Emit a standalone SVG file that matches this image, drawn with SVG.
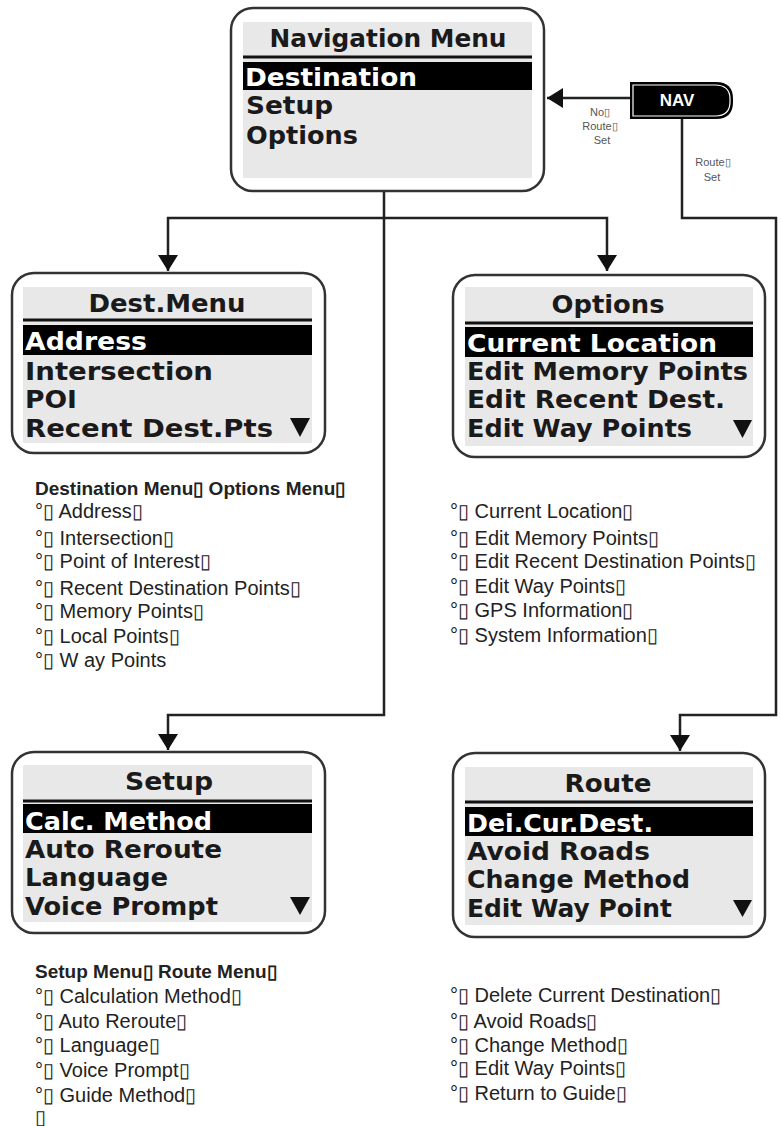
<svg xmlns="http://www.w3.org/2000/svg" width="781" height="1126" viewBox="0 0 781 1126">
<defs>
<marker id="ah" viewBox="0 0 16 20" refX="16" refY="10" markerWidth="16" markerHeight="20" markerUnits="userSpaceOnUse" orient="auto"><path d="M0,0 L16,10 L0,20 Z" fill="#111"/></marker>
<style>
.box{fill:#fff;stroke:#333;stroke-width:2.5}
.panel{fill:#e8e8e8}
.sep{stroke:#111;stroke-width:3}
.bar{fill:#000}
.lcd{font-family:"DejaVu Sans",sans-serif;font-weight:bold;fill:#1a1a1a}
.w{fill:#fff}
.t{font-size:24px}
.i{font-size:25px}
.tri{fill:#111}
.list{font-family:"Liberation Sans",Arial,sans-serif;font-size:20px;fill:#222}
.hd{font-weight:bold;font-size:19px}
.bx{font-family:"DejaVu Sans",sans-serif;font-size:15px;font-weight:normal}
.conn{stroke:#222;stroke-width:2.5;fill:none}
.lbl{font-family:"Liberation Sans",Arial,sans-serif;font-size:11px;fill:#555;text-anchor:middle}
</style>
</defs>
<rect width="781" height="1126" fill="#fff"/>

<g id="connectors">
<path class="conn" d="M384,192 V715 H168 V750" marker-end="url(#ah)"/>
<path class="conn" d="M384,218 H168 V271" marker-end="url(#ah)"/>
<path class="conn" d="M384,218 H607 V271" marker-end="url(#ah)"/>
<path class="conn" d="M630,98 H547" marker-end="url(#ah)"/>
<path class="conn" d="M682,119 V218 H776 V715 H680 V751" marker-end="url(#ah)"/>
<text class="lbl" x="600" y="116">No▯</text>
<text class="lbl" x="600" y="130">Route▯</text>
<text class="lbl" x="602" y="144">Set</text>
<text class="lbl" x="713" y="166">Route▯</text>
<text class="lbl" x="712" y="181">Set</text>
</g>

<g id="nav-button">
<path d="M630,82 H716 Q733,82 733,99 V102 Q733,119 716,119 H630 Z" fill="#000"/>
<path d="M633,85 H715 Q730,85 730,99 V102 Q730,116 715,116 H633 Z" fill="none" stroke="#fff" stroke-width="1.2"/>
<text x="677" y="106" font-family="Liberation Sans,Arial,sans-serif" font-weight="bold" font-size="17" fill="#fff" text-anchor="middle">NAV</text>
</g>

<g id="navigation-menu">
<rect class="box" x="231" y="8" width="313" height="183" rx="22"/>
<rect class="panel" x="243" y="22" width="289" height="156"/>
<text class="lcd t" x="388" y="47" text-anchor="middle" textLength="237" lengthAdjust="spacingAndGlyphs">Navigation Menu</text>
<line class="sep" x1="243" y1="57" x2="532" y2="57"/>
<rect class="bar" x="243" y="62" width="289" height="28"/>
<text class="lcd i w" x="245" y="86" textLength="172" lengthAdjust="spacingAndGlyphs">Destination</text>
<text class="lcd i" x="246" y="114" textLength="87" lengthAdjust="spacingAndGlyphs">Setup</text>
<text class="lcd i" x="246" y="144" textLength="112" lengthAdjust="spacingAndGlyphs">Options</text>
</g>

<g id="dest-menu">
<rect class="box" x="12" y="273" width="313" height="180" rx="22"/>
<rect class="panel" x="23" y="287" width="289" height="156"/>
<text class="lcd t" x="167" y="312" text-anchor="middle" textLength="157" lengthAdjust="spacingAndGlyphs">Dest.Menu</text>
<line class="sep" x1="23" y1="320" x2="312" y2="320"/>
<rect class="bar" x="23" y="325" width="289" height="30"/>
<text class="lcd i w" x="25" y="350" textLength="122" lengthAdjust="spacingAndGlyphs">Address</text>
<text class="lcd i" x="25" y="380" textLength="188" lengthAdjust="spacingAndGlyphs">Intersection</text>
<text class="lcd i" x="25" y="408" textLength="52" lengthAdjust="spacingAndGlyphs">POI</text>
<text class="lcd i" x="25" y="437" textLength="248" lengthAdjust="spacingAndGlyphs">Recent Dest.Pts</text>
<path class="tri" d="M290,418 H310 L300,437 Z"/>
</g>

<g id="options-menu">
<rect class="box" x="453" y="275" width="312" height="182" rx="22"/>
<rect class="panel" x="465" y="287" width="288" height="159"/>
<text class="lcd t" x="608" y="313" text-anchor="middle" textLength="113" lengthAdjust="spacingAndGlyphs">Options</text>
<line class="sep" x1="465" y1="323" x2="753" y2="323"/>
<rect class="bar" x="465" y="327" width="288" height="30"/>
<text class="lcd i w" x="467" y="352" textLength="250" lengthAdjust="spacingAndGlyphs">Current Location</text>
<text class="lcd i" x="467" y="380" textLength="281" lengthAdjust="spacingAndGlyphs">Edit Memory Points</text>
<text class="lcd i" x="467" y="408" textLength="258" lengthAdjust="spacingAndGlyphs">Edit Recent Dest.</text>
<text class="lcd i" x="467" y="437" textLength="225" lengthAdjust="spacingAndGlyphs">Edit Way Points</text>
<path class="tri" d="M733,420 H752 L742.5,438 Z"/>
</g>

<g id="setup-menu">
<rect class="box" x="12" y="752" width="313" height="181" rx="22"/>
<rect class="panel" x="23" y="765" width="289" height="157"/>
<text class="lcd t" x="169" y="790" text-anchor="middle" textLength="88" lengthAdjust="spacingAndGlyphs">Setup</text>
<line class="sep" x1="23" y1="801" x2="312" y2="801"/>
<rect class="bar" x="23" y="804" width="289" height="29"/>
<text class="lcd i w" x="25" y="830" textLength="187" lengthAdjust="spacingAndGlyphs">Calc. Method</text>
<text class="lcd i" x="25" y="858" textLength="197" lengthAdjust="spacingAndGlyphs">Auto Reroute</text>
<text class="lcd i" x="25" y="886" textLength="143" lengthAdjust="spacingAndGlyphs">Language</text>
<text class="lcd i" x="25" y="915" textLength="193" lengthAdjust="spacingAndGlyphs">Voice Prompt</text>
<path class="tri" d="M290,897 H310 L300,915 Z"/>
</g>

<g id="route-menu">
<rect class="box" x="453" y="753" width="312" height="184" rx="22"/>
<rect class="panel" x="465" y="767" width="288" height="158"/>
<text class="lcd t" x="608" y="792" text-anchor="middle" textLength="87" lengthAdjust="spacingAndGlyphs">Route</text>
<line class="sep" x1="465" y1="802" x2="753" y2="802"/>
<rect class="bar" x="465" y="807" width="288" height="29"/>
<text class="lcd i w" x="467" y="832" textLength="186" lengthAdjust="spacingAndGlyphs">Dei.Cur.Dest.</text>
<text class="lcd i" x="467" y="860" textLength="183" lengthAdjust="spacingAndGlyphs">Avoid Roads</text>
<text class="lcd i" x="467" y="888" textLength="223" lengthAdjust="spacingAndGlyphs">Change Method</text>
<text class="lcd i" x="467" y="917" textLength="205" lengthAdjust="spacingAndGlyphs">Edit Way Point</text>
<path class="tri" d="M733,900 H752 L742.5,917 Z"/>
</g>

<g id="dest-options-list" class="list">
<text class="hd" x="35" y="495">Destination Menu▯ Options Menu▯</text>
<text x="35" y="518">°▯ Address▯</text>
<text x="35" y="545">°▯ Intersection▯</text>
<text x="35" y="568">°▯ Point of Interest▯</text>
<text x="35" y="595">°▯ Recent Destination Points▯</text>
<text x="35" y="618">°▯ Memory Points▯</text>
<text x="35" y="643">°▯ Local Points▯</text>
<text x="35" y="667">°▯ W ay Points</text>
<text x="450" y="518">°▯ Current Location▯</text>
<text x="450" y="545">°▯ Edit Memory Points▯</text>
<text x="450" y="568">°▯ Edit Recent Destination Points▯</text>
<text x="450" y="593">°▯ Edit Way Points▯</text>
<text x="450" y="617">°▯ GPS Information▯</text>
<text x="450" y="642">°▯ System Information▯</text>
</g>

<g id="setup-route-list" class="list">
<text class="hd" x="35" y="978">Setup Menu▯ Route Menu▯</text>
<text x="35" y="1003">°▯ Calculation Method▯</text>
<text x="35" y="1028">°▯ Auto Reroute▯</text>
<text x="35" y="1052">°▯ Language▯</text>
<text x="35" y="1077">°▯ Voice Prompt▯</text>
<text x="35" y="1102">°▯ Guide Method▯</text>
<text x="35" y="1124">▯</text>
<text x="450" y="1002">°▯ Delete Current Destination▯</text>
<text x="450" y="1028">°▯ Avoid Roads▯</text>
<text x="450" y="1052">°▯ Change Method▯</text>
<text x="450" y="1075">°▯ Edit Way Points▯</text>
<text x="450" y="1100">°▯ Return to Guide▯</text>
</g>
</svg>
